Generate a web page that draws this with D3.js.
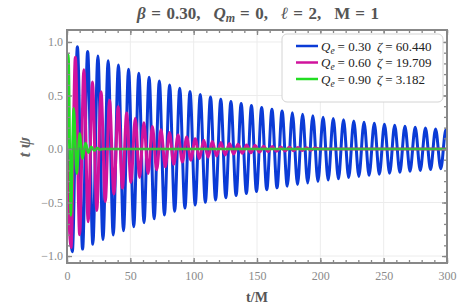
<!DOCTYPE html>
<html>
<head>
<meta charset="utf-8">
<script src="https://cdn.jsdelivr.net/npm/d3@7"></script>
<style>
  body { margin: 0; background: #fff; }
  svg { display: block; }
</style>
</head>
<body>
<div id="chart"></div>
<script>
// extrema of each ringdown signal (t/M, t*psi)
const blueT = [0, 4.2, 8.2, 12.3, 16.3, 20.4, 24.4, 28.4, 32.5, 36.5, 40.6, 44.6, 48.6, 52.7, 56.7, 60.8, 64.8, 68.8, 72.9, 76.9, 81.0,
  85.0, 89.0, 93.1, 97.1, 101.2, 105.2, 109.2, 113.3, 117.3, 121.4, 125.4, 129.4, 133.5, 137.5, 141.6, 145.6, 149.6, 153.7, 157.7,
  161.8, 165.8, 169.8, 173.9, 177.9, 182.0, 186.0, 190.0, 194.1, 198.1, 202.2, 206.2, 210.2, 214.3, 218.3, 222.4, 226.4, 230.4,
  234.5, 238.5, 242.6, 246.6, 250.6, 254.7, 258.7, 262.8, 266.8, 270.8, 274.9, 278.9, 283.0, 287.0, 291.0, 295.1, 299.1, 300];
const blueV = [0, -0.96, 0.955, -0.935, 0.912, -0.89, 0.868, -0.846, 0.824, -0.804, 0.784, -0.764, 0.745, -0.726, 0.707, -0.688, 0.670, -0.652, 0.635, -0.616, 0.598,
  -0.582, 0.567, -0.552, 0.537, -0.523, 0.509, -0.498, 0.487, -0.476, 0.465, -0.455, 0.445, -0.435, 0.425, -0.416, 0.406, -0.397, 0.388, -0.380,
  0.371, -0.363, 0.355, -0.347, 0.339, -0.332, 0.324, -0.317, 0.310, -0.303, 0.296, -0.290, 0.284, -0.278, 0.273, -0.267, 0.262, -0.256,
  0.251, -0.246, 0.241, -0.236, 0.231, -0.226, 0.222, -0.217, 0.213, -0.208, 0.204, -0.200, 0.196, -0.192, 0.188, -0.184, 0.180, 0.178];

const magT = [0, 3.2, 6.6, 10.0, 13.3, 16.7, 20.1, 23.5, 26.9, 30.2, 33.6, 37.0, 40.4, 43.8, 47.1, 50.5, 53.9, 57.3, 60.7, 64.0, 67.4,
  70.8, 74.2, 77.6, 80.9, 84.3, 87.7, 91.1, 94.5, 97.8, 101.2, 104.6, 108.0, 111.4, 114.7, 118.1, 121.5, 124.9, 128.3, 131.6, 135.0,
  138.4, 141.8, 145.2, 148.5, 151.9, 155.3, 158.7, 162.1, 165.4, 168.8, 172.2, 175.6, 179.0, 182.3, 185.7, 189.1, 192.5, 195.9, 199.3, 300];
const magV = [0, -0.92, 0.857, -0.80, 0.74, -0.68, 0.625, -0.575, 0.535, -0.49, 0.455, -0.42, 0.395, -0.365, 0.337, -0.312, 0.288, -0.266, 0.246, -0.228, 0.210,
  -0.194, 0.180, -0.166, 0.154, -0.142, 0.131, -0.121, 0.112, -0.104, 0.096, -0.089, 0.082, -0.076, 0.070, -0.065, 0.060, -0.055, 0.051, -0.047, 0.044,
  -0.040, 0.037, -0.034, 0.032, -0.029, 0.027, -0.025, 0.023, -0.021, 0.020, -0.018, 0.017, -0.016, 0.014, -0.013, 0.012, -0.011, 0.010, 0, 0];

const greenT = [0, 1.1, 3.0, 5.3, 7.7, 10.0, 12.3, 14.6, 16.9, 19.2, 21.5, 23.8, 26.1, 28.0, 300];
const greenV = [0, 0.88, -0.62, 0.38, -0.23, 0.145, -0.088, 0.055, -0.034, 0.021, -0.013, 0.008, -0.005, 0, 0];

const qeLabels = ["0.30", "0.60", "0.90"];
const zetaLabels = ["60.440", "19.709", "3.182"];
const colors = ["#0b3bd6", "#d0139d", "#22dd22"];

const xTicks = [0, 50, 100, 150, 200, 250, 300];
const yTicks = [-1.0, -0.5, 0.0, 0.5, 1.0];

const W = 458, H = 305;
const x = d3.scaleLinear().domain([0, 300]).range([67, 447]);
const y = d3.scaleLinear().domain([-1.065, 1.112]).range([263, 30]);

const svg = d3.select("#chart").append("svg")
  .attr("width", W).attr("height", H);

const serif = "'Liberation Serif', 'DejaVu Serif', serif";

// grid
svg.append("g").selectAll("line")
  .data(xTicks.slice(1, -1)).enter().append("line")
  .attr("x1", d => x(d)).attr("x2", d => x(d))
  .attr("y1", y.range()[1]).attr("y2", y.range()[0])
  .attr("stroke", "#ececec").attr("stroke-width", 1);
svg.append("g").selectAll("line")
  .data(yTicks).enter().append("line")
  .attr("x1", x(0)).attr("x2", x(300))
  .attr("y1", d => y(d)).attr("y2", d => y(d))
  .attr("stroke", "#ececec").attr("stroke-width", 1);

// curves
svg.append("clipPath").attr("id", "clip").append("rect")
  .attr("x", x(0)).attr("y", y.range()[1])
  .attr("width", x(300) - x(0)).attr("height", y.range()[0] - y.range()[1]);

const line = d3.line().x(d => x(d[0])).y(d => y(d[1])).curve(d3.curveMonotoneX);
const series = [d3.zip(blueT, blueV), d3.zip(magT, magV), d3.zip(greenT, greenV)];
const widths = [3, 3, 2.6];

const plot = svg.append("g").attr("clip-path", "url(#clip)");
plot.selectAll("path").data(series).enter().append("path")
  .attr("d", line)
  .attr("fill", "none")
  .attr("stroke", (d, i) => colors[i])
  .attr("stroke-width", (d, i) => widths[i])
  .attr("stroke-linejoin", "round");
// horizontal axis through the origin, drawn over the curves
plot.append("line")
  .attr("x1", x(0)).attr("x2", x(300)).attr("y1", y(0)).attr("y2", y(0))
  .attr("stroke", "#777").attr("stroke-opacity", 0.45).attr("stroke-width", 1.4);

// axes (inward ticks on all sides)
const tickCol = "#888";
function styleAxis(g) {
  g.select(".domain").remove();
  g.selectAll("line").attr("stroke", tickCol).attr("stroke-width", 1.3);
  g.selectAll("text").attr("fill", "#8a8a8a").style("font-family", serif).style("font-size", "12px");
}
const minorX = d3.range(0, 301, 10);
const minorY = d3.range(-10, 11).map(d => d / 10);

svg.append("g").attr("transform", `translate(0,${y.range()[0]})`)
  .call(d3.axisBottom(x).tickValues(xTicks).tickSizeInner(-5).tickSizeOuter(0).tickPadding(8).tickFormat(d3.format("d")))
  .call(styleAxis);
svg.append("g").attr("transform", `translate(0,${y.range()[0]})`)
  .call(d3.axisBottom(x).tickValues(minorX).tickSizeInner(-3).tickSizeOuter(0).tickFormat(""))
  .call(styleAxis);
svg.append("g").attr("transform", `translate(0,${y.range()[1]})`)
  .call(d3.axisTop(x).tickValues(xTicks).tickSizeInner(-5).tickSizeOuter(0).tickFormat(""))
  .call(styleAxis);
svg.append("g").attr("transform", `translate(0,${y.range()[1]})`)
  .call(d3.axisTop(x).tickValues(minorX).tickSizeInner(-3).tickSizeOuter(0).tickFormat(""))
  .call(styleAxis);

svg.append("g").attr("transform", `translate(${x(0)},0)`)
  .call(d3.axisLeft(y).tickValues(yTicks).tickSizeInner(-5).tickSizeOuter(0).tickPadding(4).tickFormat(d3.format(".1f")))
  .call(styleAxis);
svg.append("g").attr("transform", `translate(${x(0)},0)`)
  .call(d3.axisLeft(y).tickValues(minorY).tickSizeInner(-3).tickSizeOuter(0).tickFormat(""))
  .call(styleAxis);
svg.append("g").attr("transform", `translate(${x(300)},0)`)
  .call(d3.axisRight(y).tickValues(yTicks).tickSizeInner(-5).tickSizeOuter(0).tickFormat(""))
  .call(styleAxis);
svg.append("g").attr("transform", `translate(${x(300)},0)`)
  .call(d3.axisRight(y).tickValues(minorY).tickSizeInner(-3).tickSizeOuter(0).tickFormat(""))
  .call(styleAxis);

// frame
svg.append("rect")
  .attr("x", x(0)).attr("y", y.range()[1])
  .attr("width", x(300) - x(0)).attr("height", y.range()[0] - y.range()[1])
  .attr("fill", "none").attr("stroke", "#888").attr("stroke-width", 2);

// legend
const lg = svg.append("g").attr("transform", "translate(282,34)");
lg.append("rect").attr("width", 161).attr("height", 68).attr("rx", 5)
  .attr("fill", "#fff").attr("stroke", "#d4d4d4").attr("stroke-width", 1);
qeLabels.forEach((q, i) => {
  const yy = 12 + i * 16.5;
  lg.append("line").attr("x1", 14).attr("x2", 36).attr("y1", yy).attr("y2", yy)
    .attr("stroke", colors[i]).attr("stroke-width", 2.5);
  const t = lg.append("text").attr("x", 39).attr("y", yy + 4.5)
    .style("font-family", serif).style("font-size", "13px").attr("fill", "#222");
  t.append("tspan").style("font-style", "italic").text("Q");
  t.append("tspan").attr("dy", 3).style("font-size", "9.5px").style("font-style", "italic").text("e");
  t.append("tspan").attr("dy", -3).attr("dx", 3).text("= " + q);
  const z = lg.append("text").attr("x", 95).attr("y", yy + 4.5)
    .style("font-family", serif).style("font-size", "13px").attr("fill", "#222");
  z.append("tspan").style("font-style", "italic").text("ζ");
  z.append("tspan").attr("dx", 3).text("= " + zetaLabels[i]);
});

// title
const title = svg.append("text").attr("x", 137).attr("y", 19)
  .style("font-family", serif).style("font-size", "17px").style("font-weight", "bold").attr("fill", "#555");
const tp = (txt, dx, opts = {}) => {
  const s = title.append("tspan").attr("dx", dx).text(txt);
  if (opts.it) s.style("font-style", "italic");
  if (opts.sub) s.attr("dy", 3).style("font-size", "12px");
  if (opts.up) s.attr("dy", -3);
  return s;
};
tp("β", 0, { it: 1 });
tp("=", 5.5);
tp("0.30,", 5.5);
tp("Q", 13, { it: 1 });
tp("m", 0, { it: 1, sub: 1 });
tp("=", 5, { up: 1 });
tp("0,", 5.5);
tp("ℓ", 13, { it: 1 });
tp("=", 5);
tp("2,", 5.5);
tp("M", 13);
tp("=", 5);
tp("1", 5.5);

// axis labels
svg.append("text").attr("x", 257).attr("y", 302).attr("text-anchor", "middle")
  .style("font-family", serif).style("font-size", "14px").style("font-weight", "bold")
  .attr("fill", "#555").text("t/M");
svg.append("text").attr("transform", "translate(30,147) rotate(-90)").attr("text-anchor", "middle")
  .style("font-family", serif).style("font-size", "17px").style("font-weight", "bold").style("font-style", "italic")
  .attr("fill", "#666").text("t ψ");
</script>
</body>
</html>
